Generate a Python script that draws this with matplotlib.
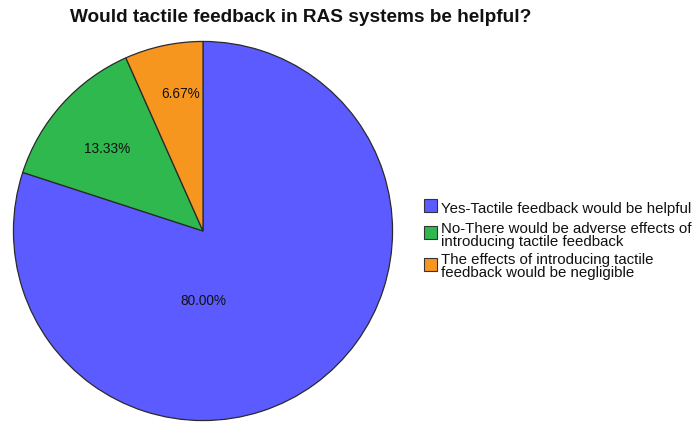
import matplotlib
matplotlib.use("Agg")
import matplotlib.pyplot as plt
from matplotlib.patches import Rectangle

plt.rcParams['font.family'] = ['Liberation Sans', 'DejaVu Sans']

# Survey responses (percent of respondents)
categories = [
    "Yes-Tactile feedback would be helpful",
    "No-There would be adverse effects of\nintroducing tactile feedback",
    "The effects of introducing tactile\nfeedback would be negligible",
]
values = [80.00, 13.33, 6.67]
colors = ["#5b5bff", "#2eb84e", "#f7961f"]
title = "Would tactile feedback in RAS systems be helpful?"

# Label anchor points inside each wedge, in units of the pie radius
label_xy = [(0.0, -0.37), (-0.505, 0.43), (-0.12, 0.725)]

# Legend layout (pixels from the top-left corner): swatch centre y, text centre y
legend_rows = [(206.0, 209.5), (232.0, 235.5), (264.5, 266.5)]
legend_x, swatch = 424, 13

W, H = 694, 424
fig = plt.figure(figsize=(W / 100, H / 100), dpi=100)

cx, cy, r = 203, 231, 190.5
ax = fig.add_axes([(cx - r) / W, (H - cy - r) / H, 2 * r / W, 2 * r / H])

wedges, _ = ax.pie(
    values,
    colors=colors,
    startangle=90,
    counterclock=False,
    radius=1.0,
    wedgeprops=dict(edgecolor="#2a2a2a", linewidth=0.9),
)
ax.set_xlim(-1.005, 1.005)
ax.set_ylim(-1.005, 1.005)
ax.set_aspect("equal")
ax.axis("off")

for v, (lx, ly) in zip(values, label_xy):
    ax.text(lx, ly, f"{v:.2f}%", ha="center", va="center",
            fontsize=9.8, color="#111111")

fig.text(301 / W, 1 - 18 / H, title, ha="center", va="center",
         fontsize=13.7, fontweight="bold", color="#111111")

# Legend: coloured swatches with their category text
for label, color, (sy, ty) in zip(categories, colors, legend_rows):
    fig.add_artist(Rectangle(
        (legend_x / W, 1 - (sy + swatch / 2) / H), swatch / W, swatch / H,
        transform=fig.transFigure, facecolor=color,
        edgecolor="#333333", linewidth=0.8))
    fig.text((legend_x + swatch + 4) / W, 1 - ty / H, label,
             ha="left", va="center", fontsize=10.8, linespacing=0.92,
             color="#111111")

fig.savefig("out.png", dpi=100, facecolor="white")
